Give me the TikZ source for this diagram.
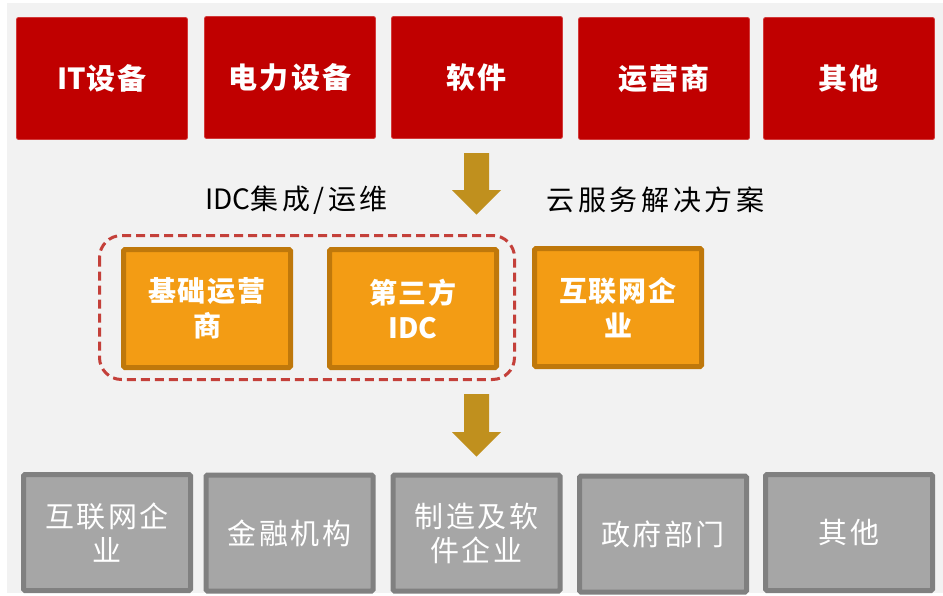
\documentclass[tikz,border=0pt]{standalone}
\usepackage{fontspec}
\newfontfamily\cjka[LetterSpace=7]{Noto Sans CJK SC}
\newfontfamily\cjkb[LetterSpace=9]{Noto Sans CJK SC}
\newfontfamily\cjkc[LetterSpace=13]{Noto Sans CJK SC}
\newfontfamily\lat{Noto Sans CJK SC}
\definecolor{bgc}{HTML}{F2F2F2}
\definecolor{redc}{HTML}{C00000}
\definecolor{redb}{HTML}{D23A3A}
\definecolor{orc}{HTML}{F39C14}
\definecolor{orb}{HTML}{BF780B}
\definecolor{grc}{HTML}{A6A6A6}
\definecolor{grb}{HTML}{808080}
\definecolor{arc}{HTML}{C0901E}
\definecolor{dsc}{HTML}{C4403A}
\tikzset{
  topbox/.style={fill=redc, draw=redb, line width=0.8pt, rounded corners=2pt,
    minimum width=171pt, minimum height=122pt, text=white,
    font=\cjka\bfseries\fontsize{29}{35}\selectfont, align=center},
  midbox/.style={fill=orc, draw=orb, line width=5pt, rounded corners=1.5pt,
    minimum width=167pt, minimum height=118pt, text=white,
    font=\cjka\bfseries\fontsize{28}{35}\selectfont, align=center},
  botbox/.style={fill=grc, draw=grb, line width=5pt, rounded corners=1.5pt,
    minimum width=167pt, minimum height=116pt, text=white,
    font=\cjkb\fontsize{29}{34}\selectfont, align=center},
  lbl/.style={text=black, font=\cjkc\fontsize{28}{30}\selectfont, inner sep=0pt},
  blockarrow/.style={fill=arc, draw=none}
}
\begin{document}
\begin{tikzpicture}[x=1pt,y=-1pt]
\useasboundingbox (0,0) rectangle (943,595);
\fill[white] (0,0) rectangle (943,595);
\fill[bgc] (7,3) rectangle (943,593);
% top row
\node[topbox] (t1) at (102,78.5) {{\lat IT}设备};
\node[topbox] (t2) at (290,77.5) {电力设备};
\node[topbox] (t3) at (477,77.5) {软件};
\node[topbox] (t4) at (664,78.5) {运营商};
\node[topbox] (t5) at (849,78.5) {其他};
% arrow 1
\fill[blockarrow] (464,153) -- (489,153) -- (489,190) -- (501,190) -- (476.5,214.5) -- (452,190) -- (464,190) -- cycle;
% labels
\node[lbl] (l1) at (296.5,200) {{\lat IDC}集成/运维};
\node[lbl] (l2) at (655.5,200) {云服务解决方案};
% dashed group
\draw[dsc, line width=3pt, dash pattern=on 9pt off 5pt, rounded corners=22pt] (99.5,235.5) rectangle (514.5,379.5);
% middle row
\node[midbox] (m1) at (207,308.5) {基础运营\\商};
\node[midbox] (m2) at (413,308.5) {第三方\\{\lat IDC}};
\node[midbox] (m3) at (618,307.5) {互联网企\\业};
% arrow 2
\fill[blockarrow] (464,394) -- (489,394) -- (489,432) -- (501,432) -- (476.5,456.5) -- (452,432) -- (464,432) -- cycle;
% bottom row
\node[botbox] (b1) at (107,532.5) {互联网企\\业};
\node[botbox] (b2) at (289.5,533) {金融机构};
\node[botbox] (b3) at (476.5,533) {制造及软\\件企业};
\node[botbox] (b4) at (663,534) {政府部门};
\node[botbox] (b5) at (849,532.5) {其他};
\end{tikzpicture}
\end{document}
